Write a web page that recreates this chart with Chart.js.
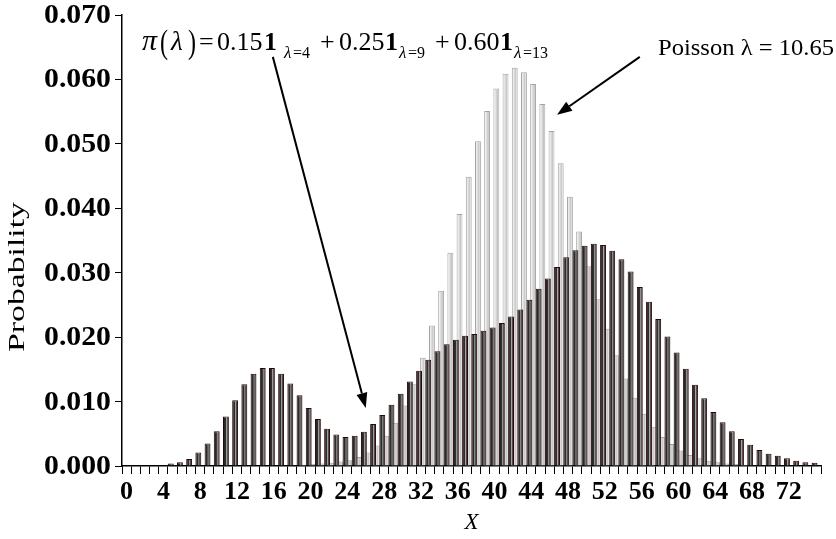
<!DOCTYPE html>
<html>
<head>
<meta charset="utf-8">
<script src="https://cdn.jsdelivr.net/npm/chart.js@4"></script>
<style>
  html, body { margin: 0; padding: 0; background: #fff; }
  #wrap { width: 836px; height: 539px; }
</style>
</head>
<body>
<div id="wrap"><canvas id="chart" width="836" height="539"></canvas></div>
<script>
// ---- data ----
const xValues = [
  '0','1','2','3','4','5','6','7','8','9',
  '10','11','12','13','14','15','16','17','18','19',
  '20','21','22','23','24','25','26','27','28','29',
  '30','31','32','33','34','35','36','37','38','39',
  '40','41','42','43','44','45','46','47','48','49',
  '50','51','52','53','54','55','56','57','58','59',
  '60','61','62','63','64','65','66','67','68','69',
  '70','71','72','73','74','75'
];
const tickLabels = ['0','4','8','12','16','20','24','28','32','36','40','44','48','52','56','60','64','68','72'];
const yTicks = [0, 0.01, 0.02, 0.03, 0.04, 0.05, 0.06, 0.07];

// mixture pi(lambda) = 0.15*1{4} + 0.25*1{9} + 0.60*1{13}
const mixture = [
  0, 0, 0, 0, 0,
  0.0004, 0.0006, 0.0011, 0.0021, 0.0035,
  0.0054, 0.0077, 0.0102, 0.0127, 0.0143,
  0.0152, 0.0152, 0.0143, 0.0128, 0.0110,
  0.0090, 0.0073, 0.0058, 0.0049, 0.0045,
  0.0047, 0.0053, 0.0065, 0.0079, 0.0095,
  0.0112, 0.0131, 0.0148, 0.0165, 0.0178,
  0.0189, 0.0196, 0.0202, 0.0205, 0.0210,
  0.0215, 0.0222, 0.0232, 0.0243, 0.0258,
  0.0275, 0.0291, 0.0309, 0.0324, 0.0335,
  0.0342, 0.0345, 0.0343, 0.0334, 0.0321,
  0.0302, 0.0278, 0.0255, 0.0228, 0.0201,
  0.0176, 0.0151, 0.0126, 0.0105, 0.0084,
  0.0068, 0.0054, 0.0042, 0.0033, 0.0025,
  0.0019, 0.0016, 0.0012, 0.0008, 0.0006,
  0.0005
];

// Poisson lambda = 10.65
const poisson = [
  0, 0, 0, 0, 0,
  0, 0, 0, 0, 0,
  0, 0, 0, 0, 0,
  0, 0, 0, 0.0001, 0.0002,
  0.0003, 0.0004, 0.0005, 0.0007, 0.0009,
  0.0014, 0.0021, 0.0032, 0.0047, 0.0067,
  0.0094, 0.0127, 0.0168, 0.0218, 0.0272,
  0.0331, 0.0391, 0.0449, 0.0504, 0.0551,
  0.0586, 0.0609, 0.0618, 0.0611, 0.0593,
  0.0562, 0.0520, 0.0470, 0.0418, 0.0364,
  0.0310, 0.0259, 0.0213, 0.0172, 0.0136,
  0.0106, 0.0081, 0.0061, 0.0045, 0.0034,
  0.0024, 0.0017, 0.0012, 0.0008, 0.0006,
  0.0004, 0.0003, 0.0002, 0.0001, 0.0001,
  0, 0, 0, 0, 0,
  0
];

const SERIF = '"Liberation Serif", "Times New Roman", serif';
const CAT_PCT = 0.8;
const BAR_PCT = 1.6;   // > 1 so the two bars of a group overlap

// shaded column fill: a horizontal gradient across each bar
const darkStops = [[0, '#4a0c0c'], [0.14, '#222'], [0.45, '#303030'], [0.58, '#a8a8a8'], [0.7, '#555'], [0.88, '#242424'], [1, '#161616']];
const lightStops = [[0, '#9c9c9c'], [0.15, '#f6f6f6'], [0.45, '#dadada'], [0.7, '#c4c4c4'], [0.86, '#f4f4f4'], [1, '#a4a4a4']];

function columnFill(stops, side, flat) {
  return c => {
    const xs = c.chart.scales.x;
    if (c.type !== 'data' || !xs || !xs.width) return flat;
    const slot = xs.width / xValues.length * CAT_PCT / 2;
    const w = slot * BAR_PCT;
    const cx = xs.getPixelForValue(c.dataIndex) + side * slot / 2;
    const g = c.chart.ctx.createLinearGradient(cx - w / 2, 0, cx + w / 2, 0);
    stops.forEach(([o, col]) => g.addColorStop(o, col));
    return g;
  };
}

// ---- helpers ----
function drawArrow(ctx, x0, y0, x1, y1) {
  const ang = Math.atan2(y1 - y0, x1 - x0);
  const len = 15, half = 5.5;
  const bx = x1 - len * Math.cos(ang), by = y1 - len * Math.sin(ang);
  ctx.beginPath();
  ctx.moveTo(x0, y0);
  ctx.lineTo(bx, by);
  ctx.lineWidth = 2;
  ctx.strokeStyle = '#000';
  ctx.stroke();
  ctx.beginPath();
  ctx.moveTo(x1, y1);
  ctx.lineTo(bx - half * Math.sin(ang), by + half * Math.cos(ang));
  ctx.lineTo(bx + half * Math.sin(ang), by - half * Math.cos(ang));
  ctx.closePath();
  ctx.fillStyle = '#000';
  ctx.fill();
}

// text scaled along its baseline to a given width
function stretchText(ctx, text, x, y, width, align) {
  const w = ctx.measureText(text).width;
  ctx.save();
  ctx.translate(x, y);
  ctx.scale(width / w, 1);
  ctx.textAlign = align;
  ctx.fillText(text, 0, 0);
  ctx.restore();
}

// y tick labels and axis title
const yAxisText = {
  id: 'yAxisText',
  afterDraw(chart) {
    const ctx = chart.ctx, ys = chart.scales.y, ca = chart.chartArea;
    ctx.save();
    ctx.fillStyle = '#000';
    ctx.textBaseline = 'middle';
    ctx.font = 'bold 27px ' + SERIF;
    yTicks.forEach(v => {
      stretchText(ctx, v.toFixed(3), ca.left - 11, ys.getPixelForValue(v) + 1, 67, 'right');
    });
    ctx.font = '23px ' + SERIF;
    ctx.translate(18, 277);
    ctx.rotate(-Math.PI / 2);
    stretchText(ctx, 'Probability', 0, 0, 150, 'center');
    ctx.restore();
  }
};

// formula, series label and arrows
const annotations = {
  id: 'annotations',
  afterDraw(chart) {
    const ctx = chart.ctx;
    const xs = chart.scales.x, ys = chart.scales.y;
    ctx.save();
    ctx.fillStyle = '#000';
    ctx.textBaseline = 'alphabetic';
    ctx.textAlign = 'left';

    const main = '26px ' + SERIF;
    const paren = '34px ' + SERIF;
    const bold = 'bold 26px ' + SERIF;
    const sub = 'italic 17px ' + SERIF;
    const subN = '16px ' + SERIF;
    const base = 50, subBase = 58;
    ctx.font = 'italic 30px ' + SERIF;
    ctx.fillText('π', 142, base);
    ctx.font = paren;
    stretchText(ctx, '(', 160, base + 3, 8, 'left');
    stretchText(ctx, ')', 188, base + 3, 8, 'left');
    const runs = [
      ['λ', 171, base, 'italic 27px ' + SERIF],
      ['=', 199, base, main],
      ['0.15', 217, base, main],
      ['1', 264, base, bold],
      ['λ', 284, subBase, sub],
      ['=4', 293, subBase, subN],
      ['+', 320, base, main],
      ['0.25', 339, base, main],
      ['1', 385, base, bold],
      ['λ', 399, subBase, sub],
      ['=9', 408, subBase, subN],
      ['+', 435, base, main],
      ['0.60', 454, base, main],
      ['1', 500, base, bold],
      ['λ', 514, subBase, sub],
      ['=13', 523, subBase, subN]
    ];
    runs.forEach(([t, x, y, f]) => { ctx.font = f; ctx.fillText(t, x, y); });

    ctx.font = '23px ' + SERIF;
    stretchText(ctx, 'Poisson λ = 10.65', 658, 55, 176, 'left');

    // arrows anchored on the value scales
    const px = v => xs.getPixelForValue(v);
    drawArrow(ctx, px(15.9), ys.getPixelForValue(0.0635), px(26.0), ys.getPixelForValue(0.0090));
    drawArrow(ctx, px(55.8), ys.getPixelForValue(0.0635), px(46.8), ys.getPixelForValue(0.0545));
    ctx.restore();
  }
};

new Chart(document.getElementById('chart'), {
  type: 'bar',
  data: {
    labels: xValues,
    datasets: [
      {
        label: 'pi(lambda)',
        data: mixture,
        backgroundColor: columnFill(darkStops, -1, '#333'),
        borderColor: '#2e0606',
        borderWidth: 1,
        categoryPercentage: CAT_PCT,
        barPercentage: BAR_PCT
      },
      {
        label: 'Poisson',
        data: poisson,
        backgroundColor: columnFill(lightStops, 1, '#dedede'),
        borderColor: '#a4a4a4',
        borderWidth: 1,
        categoryPercentage: CAT_PCT,
        barPercentage: BAR_PCT
      }
    ]
  },
  options: {
    responsive: false,
    animation: false,
    layout: { padding: { top: 15, right: 15, left: 0, bottom: 0 } },
    plugins: {
      legend: { display: false },
      tooltip: { enabled: false }
    },
    scales: {
      x: {
        grid: { display: true, drawOnChartArea: false, color: '#000', tickLength: 8, tickWidth: 1 },
        border: { color: '#000', width: 1.5 },
        ticks: {
          autoSkip: false,
          maxRotation: 0,
          padding: 3,
          color: '#000',
          font: { family: SERIF, size: 26, weight: 'bold' },
          callback: function (v) {
            const l = this.getLabelForValue(v);
            return tickLabels.includes(l) ? l : '';
          }
        },
        title: {
          display: true,
          text: 'X',
          color: '#000',
          font: { family: SERIF, size: 23, style: 'italic' },
          padding: { top: 0, bottom: 2 }
        },
        afterFit: s => { s.height = 73; }
      },
      y: {
        min: 0,
        max: 0.07,
        afterBuildTicks: s => { s.ticks = yTicks.map(v => ({ value: v })); },
        grid: { display: true, drawOnChartArea: false, color: '#000', tickLength: 7, tickWidth: 1 },
        border: { color: '#000', width: 1.5 },
        ticks: { display: false },
        title: { display: false },
        afterFit: s => { s.width = 122; }
      }
    }
  },
  plugins: [yAxisText, annotations]
});
</script>
</body>
</html>
